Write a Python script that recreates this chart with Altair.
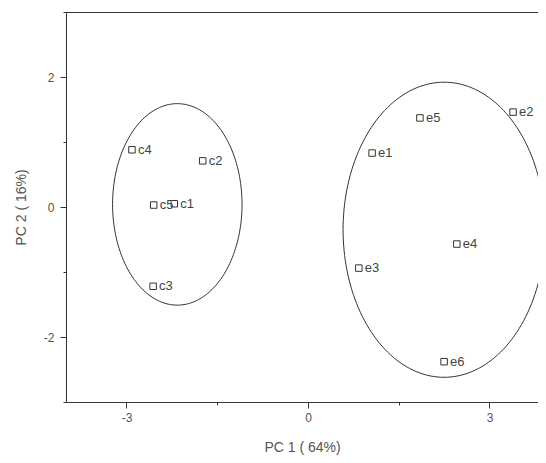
import altair as alt
import numpy as np
import pandas as pd

# sample scores
names = ["c1", "c2", "c3", "c4", "c5", "e1", "e2", "e3", "e4", "e5", "e6"]
pc1 = [-2.21, -1.74, -2.56, -2.91, -2.55, 1.06, 3.39, 0.84, 2.46, 1.85, 2.25]
pc2 = [0.05, 0.71, -1.22, 0.88, 0.03, 0.83, 1.46, -0.94, -0.57, 1.37, -2.38]

# confidence ellipses (center / semi-axes)
ell_group = ["c", "e"]
ell_cx = [-2.16, 2.25]
ell_cy = [0.04, -0.35]
ell_rx = [1.07, 1.67]
ell_ry = [1.55, 2.27]

x_major = [-3, 0, 3]
x_minor = [-1.5, 1.5]
y_major = [-2, 0, 2]
y_minor = [-3, -1, 1, 3]

pts = pd.DataFrame({"name": names, "pc1": pc1, "pc2": pc2})

rows = []
t = np.linspace(0, 2 * np.pi, 181)
for g, cx, cy, rx, ry in zip(ell_group, ell_cx, ell_cy, ell_rx, ell_ry):
    for i, a in enumerate(t):
        rows.append({"g": g, "i": i, "pc1": cx + rx * np.cos(a), "pc2": cy + ry * np.sin(a)})
ell = pd.DataFrame(rows)

xs = alt.Scale(domain=[-4, 3.802], nice=False, zero=False)
ys = alt.Scale(domain=[-3, 3], nice=False, zero=False)
gray = "#555555"
dark = "#333333"

ell_layer = alt.Chart(ell).mark_line(color=dark, strokeWidth=1, clip=False).encode(
    x=alt.X("pc1:Q", scale=xs, axis=alt.Axis(
        values=x_major, orient="bottom", grid=False, tickSize=6, labelPadding=4,
        title="PC 1 ( 64%)", titlePadding=17, labelExpr="'' + datum.value")),
    y=alt.Y("pc2:Q", scale=ys, axis=alt.Axis(
        values=y_major, orient="left", grid=False, tickSize=6, labelPadding=6,
        title="PC 2 ( 16%)", titlePadding=15, labelExpr="'' + datum.value")),
    detail="g:N",
    order="i:Q",
)

pt_layer = alt.Chart(pts).mark_point(shape="square", size=42, filled=False,
                                     color=dark, strokeWidth=1, opacity=1).encode(
    x=alt.X("pc1:Q", scale=xs, axis=alt.Axis(
        values=x_minor, orient="bottom", grid=False, tickSize=3, labels=False,
        domain=False, title=None)),
    y=alt.Y("pc2:Q", scale=ys, axis=alt.Axis(
        values=y_minor, orient="left", grid=False, tickSize=3, labels=False,
        domain=False, title=None)),
)

txt_layer = alt.Chart(pts).mark_text(align="left", baseline="middle", dx=6,
                                     fontSize=13, font="Liberation Sans",
                                     color="#444444").encode(
    x=alt.X("pc1:Q", scale=xs, axis=alt.Axis(
        orient="top", grid=False, ticks=False, labels=False, domain=True, title=None)),
    y=alt.Y("pc2:Q", scale=ys, axis=None),
    text="name:N",
)

chart = alt.layer(ell_layer, pt_layer, txt_layer).resolve_axis(
    x="independent", y="independent"
).properties(
    width=472, height=390,
    autosize=alt.AutoSizeParams(type="none"),
    padding={"left": 58, "top": 4, "right": 0, "bottom": 53},
).configure_view(stroke=None).configure_axis(
    domainColor=dark, tickColor=dark, labelColor=gray, titleColor=gray,
    labelFont="Liberation Sans", titleFont="Liberation Sans",
    labelFontSize=12, titleFontSize=14, titleFontWeight="normal",
)

chart.save("out.html", embed_options={"renderer": "svg", "actions": False})
